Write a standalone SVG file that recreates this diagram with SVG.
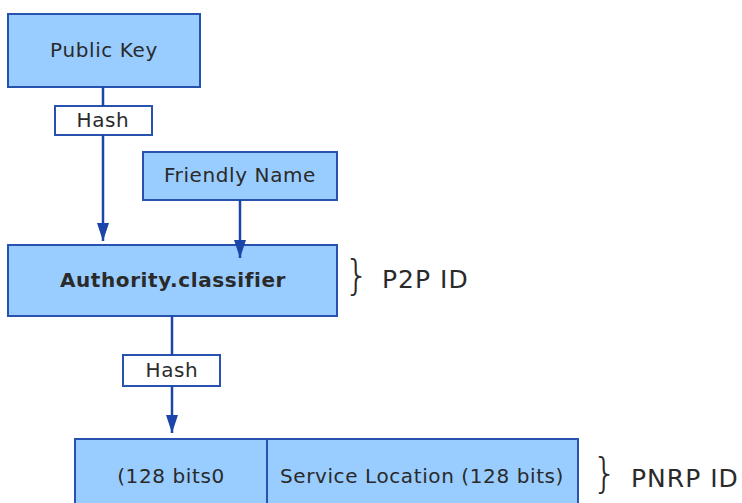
<svg xmlns="http://www.w3.org/2000/svg" width="742" height="503" viewBox="0 0 742 503">
  <defs>
    <marker id="arrow" viewBox="0 0 18 12" refX="18" refY="6" markerWidth="18" markerHeight="12" markerUnits="userSpaceOnUse" orient="auto">
      <path d="M0,0 L18,6 L0,12 Z" fill="#1b45a8"/>
    </marker>
    <style>
      .box { fill: #99ccff; stroke: #2752b0; stroke-width: 2; }
      .tag { fill: #ffffff; stroke: #2752b0; stroke-width: 2; }
      .lbl { font-family: "DejaVu Sans", Verdana, sans-serif; font-size: 20px; letter-spacing: 0.6px; fill: #2a2a2a; text-anchor: middle; }
      .side { font-family: "DejaVu Sans", Verdana, sans-serif; font-size: 25px; letter-spacing: 1px; fill: #2a2a2a; }
      .brace { font-family: "DejaVu Sans", sans-serif; font-size: 40px; fill: #2a2a2a; font-weight: 200; }
      .wire { fill: none; stroke: #1b45a8; stroke-width: 2.5; }
    </style>
  </defs>
  <rect width="742" height="503" fill="#ffffff"/>

  <g id="public-key">
    <rect class="box" x="8" y="14" width="192" height="73"/>
    <text class="lbl" x="104" y="57">Public Key</text>
  </g>

  <g id="hash-1">
    <rect class="tag" x="55" y="106" width="97" height="29"/>
    <text class="lbl" x="103" y="127">Hash</text>
  </g>

  <g id="friendly-name">
    <rect class="box" x="143" y="152" width="194" height="48"/>
    <text class="lbl" x="240" y="182">Friendly Name</text>
  </g>

  <g id="authority-classifier">
    <rect class="box" x="8" y="245" width="329" height="71"/>
    <text class="lbl" x="173" y="287" font-weight="bold" font-size="21" letter-spacing="0">Authority.classifier</text>
  </g>

  <g id="p2p-id">
    <text class="brace" x="344" y="289">}</text>
    <text class="side" x="382" y="288">P2P ID</text>
  </g>

  <g id="hash-2">
    <rect class="tag" x="123" y="355" width="97" height="31"/>
    <text class="lbl" x="172" y="377">Hash</text>
  </g>

  <g id="pnrp-fields">
    <rect class="box" x="75" y="439" width="503" height="80"/>
    <line x1="267" y1="439" x2="267" y2="503" stroke="#2752b0" stroke-width="2"/>
    <text class="lbl" x="171" y="483">(128 bits0</text>
    <text class="lbl" x="422" y="483">Service Location (128 bits)</text>
  </g>

  <g id="pnrp-id">
    <text class="brace" x="592" y="487">}</text>
    <text class="side" x="631" y="487">PNRP ID</text>
  </g>

  <!-- connectors, drawn last so the arrow into Authority.classifier shows on top -->
  <g id="connectors">
    <line class="wire" x1="103" y1="87" x2="103" y2="106"/>
    <line class="wire" x1="103" y1="135" x2="103" y2="241" marker-end="url(#arrow)"/>
    <line class="wire" x1="240" y1="200" x2="240" y2="258" marker-end="url(#arrow)"/>
    <line class="wire" x1="172" y1="316" x2="172" y2="355"/>
    <line class="wire" x1="172" y1="386" x2="172" y2="433" marker-end="url(#arrow)"/>
  </g>
</svg>
